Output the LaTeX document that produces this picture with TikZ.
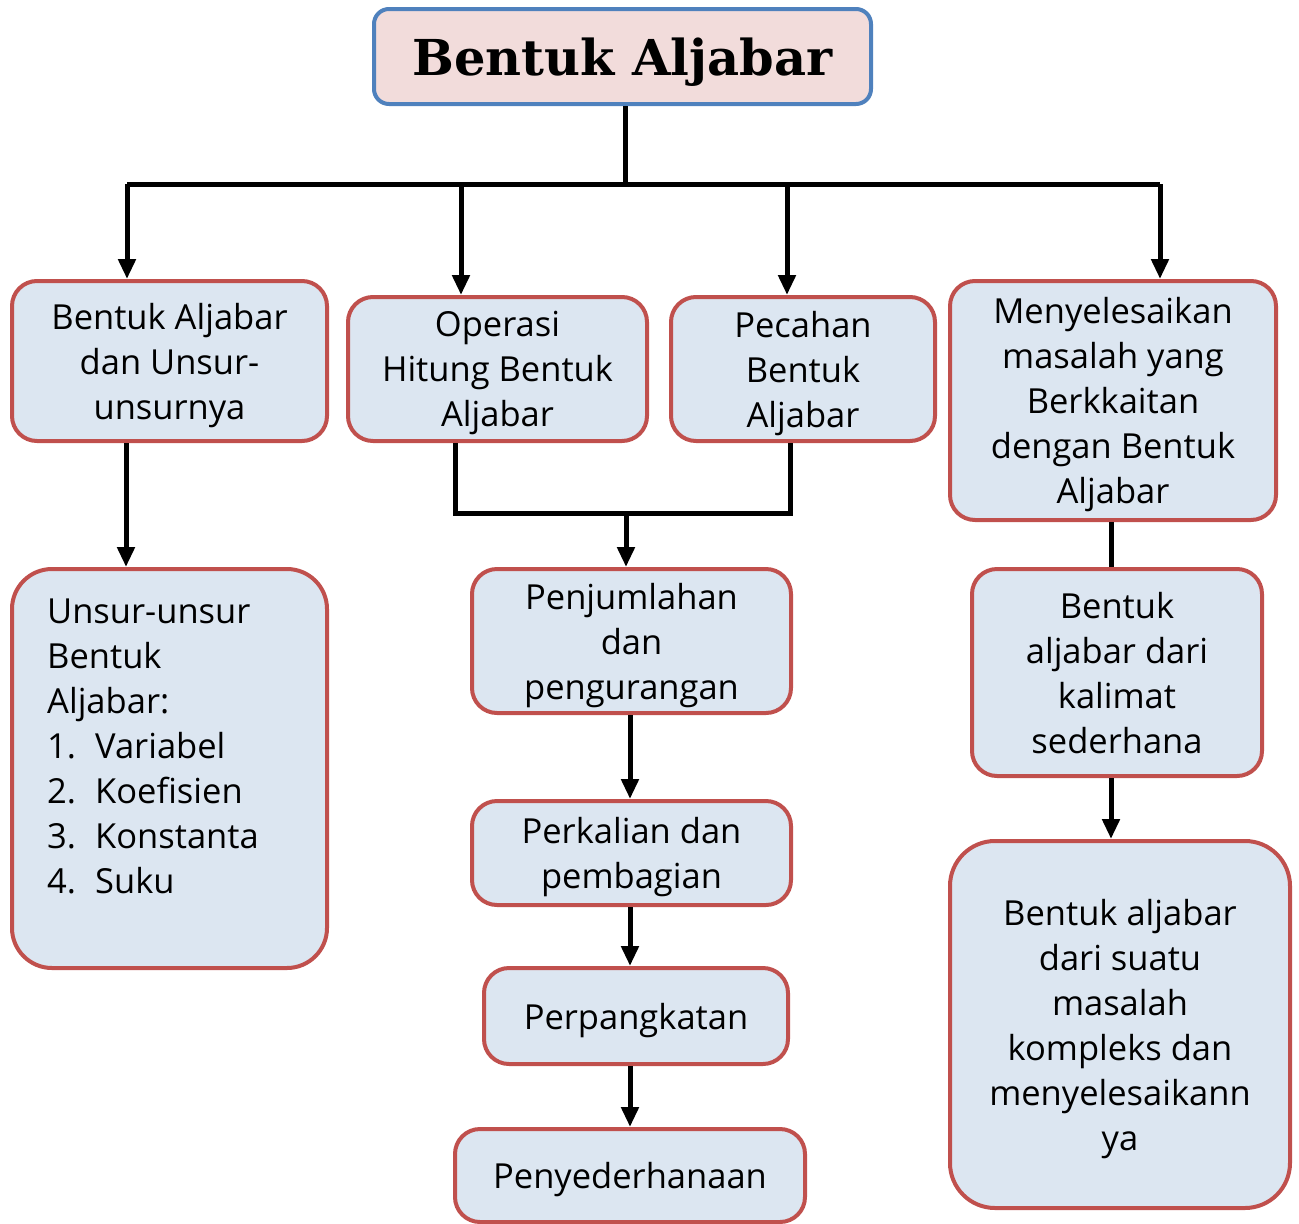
\documentclass[tikz,border=0pt]{standalone}
\usepackage{fontspec}
\setmainfont{Open Sans}
\newfontfamily\titlefont{DejaVu Serif}
\usetikzlibrary{arrows.meta}
\definecolor{boxFill}{RGB}{220,230,241}
\definecolor{boxEdge}{RGB}{192,80,77}
\definecolor{topFill}{RGB}{242,220,219}
\definecolor{topEdge}{RGB}{79,129,189}

\tikzset{
  box/.style={draw=boxEdge,fill=boxFill,line width=4pt,rounded corners=25pt,
    align=center,inner sep=0pt,text depth=0pt,font=\fontsize{34.5}{45}\selectfont},
  topbox/.style={box,draw=topEdge,fill=topFill,rounded corners=15pt,
    font=\titlefont\bfseries\fontsize{49.5}{50}\selectfont},
  link/.style={line width=5pt},
  arrow/.style={link,-{Triangle[width=17pt,length=20pt]}}
}

\begin{document}
\begin{tikzpicture}[x=1pt,y=-1pt]
  \useasboundingbox (0,0) rectangle (1299,1224);

  % title
  \node[topbox,minimum width=497pt,minimum height=95pt] (top) at (622.5,56.5) {Bentuk Aljabar};

  % first row
  \node[box,minimum width=315pt,minimum height=160pt] (b1) at (169.5,361)
    {Bentuk Aljabar\\dan Unsur-\\unsurnya};
  \node[box,minimum width=299pt,minimum height=144pt] (b2) at (497.5,369)
    {Operasi\\Hitung Bentuk\\Aljabar};
  \node[box,minimum width=264pt,minimum height=144pt] (b3) at (803,369)
    {Pecahan\\Bentuk\\Aljabar};
  \node[box,minimum width=326pt,minimum height=239pt] (b4) at (1113,400.5)
    {Menyelesaikan\\masalah yang\\Berkkaitan\\dengan Bentuk\\Aljabar};

  % left column
  \node[box,rounded corners=40pt,minimum width=315pt,minimum height=399pt] (b5) at (169.5,768.5) {};
  \node[font=\fontsize{34.5}{45}\selectfont,align=left,anchor=north west,inner sep=0pt] (b5text) at (47,599)
    {Unsur-unsur\\Bentuk\\Aljabar:\\
     \makebox[48pt][l]{1.}Variabel\\
     \makebox[48pt][l]{2.}Koefisien\\
     \makebox[48pt][l]{3.}Konstanta\\
     \makebox[48pt][l]{4.}Suku};

  % middle column
  \node[box,minimum width=319pt,minimum height=144pt] (b6) at (631.5,641)
    {Penjumlahan\\dan\\pengurangan};
  \node[box,minimum width=319pt,minimum height=104pt] (b7) at (631.5,853)
    {Perkalian dan\\pembagian};
  \node[box,minimum width=304pt,minimum height=96pt] (b8) at (636,1016)
    {Perpangkatan};
  \node[box,minimum width=350pt,minimum height=93pt] (b9) at (630,1175.5)
    {Penyederhanaan};

  % right column
  \node[box,minimum width=290pt,minimum height=207pt] (b10) at (1117,672.5)
    {Bentuk\\aljabar dari\\kalimat\\sederhana};
  \node[box,rounded corners=45pt,minimum width=340pt,minimum height=367pt] (b11) at (1120,1024.5)
    {Bentuk aljabar\\dari suatu\\masalah\\kompleks dan\\menyelesaikann\\ya};

  % branches from the title
  \coordinate (busL) at (127,184);
  \coordinate (busR) at (1160,184);
  \coordinate (j2) at (461,184);
  \coordinate (j3) at (787,184);
  \coordinate (jc) at (625,184);
  \draw[link] (top.south -| jc) -- (jc);
  \draw[link] (busL) -- (busR);
  \draw[arrow] (busL) -- (busL |- b1.north);
  \draw[arrow] (j2) -- (j2 |- b2.north);
  \draw[arrow] (j3) -- (j3 |- b3.north);
  \draw[arrow] (busR) -- (busR |- b4.north);

  % joining operasi and pecahan
  \coordinate (m2) at (455,513);
  \coordinate (m3) at (790,513);
  \coordinate (mc) at (626,513);
  \draw[link] (m2 |- b2.south) -- (m2) -- (m3) -- (m3 |- b3.south);
  \draw[arrow] (mc) -- (mc |- b6.north);

  % down the columns
  \coordinate (d1) at (126,0);
  \coordinate (d6) at (630,0);
  \coordinate (d4) at (1111,0);
  \draw[arrow] (d1 |- b1.south) -- (d1 |- b5.north);
  \draw[arrow] (d6 |- b6.south) -- (d6 |- b7.north);
  \draw[arrow] (d6 |- b7.south) -- (d6 |- b8.north);
  \draw[arrow] (d6 |- b8.south) -- (d6 |- b9.north);
  \draw[link] (d4 |- b4.south) -- (d4 |- b10.north);
  \draw[arrow] (d4 |- b10.south) -- (d4 |- b11.north);
\end{tikzpicture}
\end{document}
